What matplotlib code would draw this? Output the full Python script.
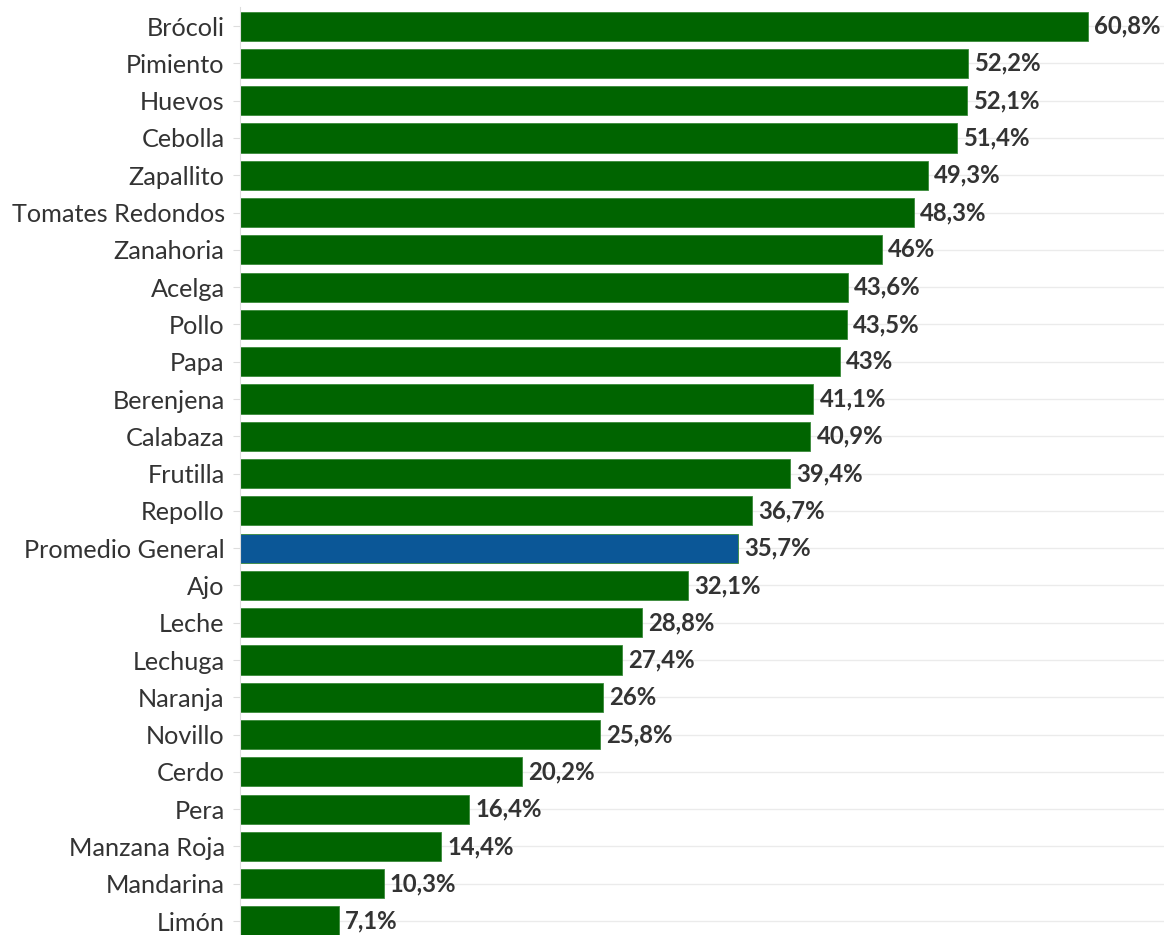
import numpy as np
import matplotlib.pyplot as plt

categories = ['Brócoli', 'Pimiento', 'Huevos', 'Cebolla', 'Zapallito',
              'Tomates Redondos', 'Zanahoria', 'Acelga', 'Pollo', 'Papa',
              'Berenjena', 'Calabaza', 'Frutilla', 'Repollo', 'Promedio General',
              'Ajo', 'Leche', 'Lechuga', 'Naranja', 'Novillo', 'Cerdo', 'Pera',
              'Manzana Roja', 'Mandarina', 'Limón']
values = [60.8, 52.2, 52.1, 51.4, 49.3, 48.3, 46.0, 43.6, 43.5, 43.0,
          41.1, 40.9, 39.4, 36.7, 35.7, 32.1, 28.8, 27.4, 26.0, 25.8,
          20.2, 16.4, 14.4, 10.3, 7.1]
labels = ['60,8%', '52,2%', '52,1%', '51,4%', '49,3%', '48,3%', '46%', '43,6%',
          '43,5%', '43%', '41,1%', '40,9%', '39,4%', '36,7%', '35,7%', '32,1%',
          '28,8%', '27,4%', '26%', '25,8%', '20,2%', '16,4%', '14,4%', '10,3%', '7,1%']
highlight = 'Promedio General'

plt.rcParams['font.family'] = ['Lato', 'DejaVu Sans']

fig = plt.figure(figsize=(11.66, 9.35), dpi=100)
ax = fig.add_axes([240 / 1166, -0.005, 924 / 1166, 0.997])

y = np.arange(len(categories))
colors = ['#0B5797' if c == highlight else '#006400' for c in categories]
ax.barh(y, values, height=0.78, color=colors, edgecolor='#3a8a3a', linewidth=0.6, zorder=2)

for yi, v, lab in zip(y, values, labels):
    ax.text(v + 0.45, yi, lab, va='center', ha='left', fontsize=17.2,
            fontweight='bold', color='#333333', zorder=3)

ax.set_xlim(0, 66.25)
ax.set_ylim(len(categories) - 0.5, -0.5)
ax.set_yticks(y)
ax.set_yticklabels(categories, fontsize=18.2, color='#333333')
ax.tick_params(axis='y', length=5, color='#dddddd', pad=6)
ax.set_xticks([])
ax.grid(axis='y', color='#ebebeb', linewidth=1, zorder=0)
for s in ['top', 'right', 'bottom']:
    ax.spines[s].set_visible(False)
ax.spines['left'].set_color('#dddddd')

fig.savefig('out.png', dpi=100)
